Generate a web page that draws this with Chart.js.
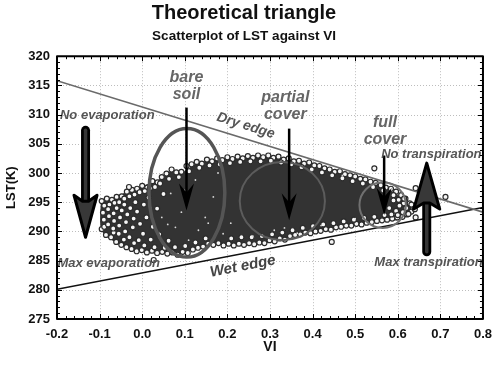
<!DOCTYPE html>
<html>
<head>
<meta charset="utf-8">
<script src="https://cdn.jsdelivr.net/npm/chart.js@4.4.0/dist/chart.umd.min.js"></script>
<style>
  html, body { margin: 0; padding: 0; background: #fff; }
</style>
</head>
<body>
<canvas id="chart" width="500" height="366"></canvas>
<script>
// --- values (VI, LST in K) ---
const dryEdge = [[-0.2, 315.8], [0.8, 293.3]];
const wetEdge = [[-0.2, 280.1], [0.8, 294.1]];

// outline of the dense part of the cloud
const cloudOutline = [
  [-0.095, 295.0], [-0.060, 295.8], [-0.025, 297.0], [0.000, 297.6], [0.045, 298.9],
  [0.070, 300.2], [0.095, 300.0], [0.130, 301.6], [0.160, 302.0], [0.210, 302.4],
  [0.290, 302.8], [0.360, 302.0], [0.440, 300.5], [0.490, 299.4], [0.560, 297.6],
  [0.600, 296.0], [0.630, 293.8], [0.610, 292.3], [0.565, 291.9], [0.487, 291.1],
  [0.440, 290.4], [0.400, 289.9], [0.364, 289.5], [0.324, 288.7], [0.287, 288.1],
  [0.248, 287.8], [0.208, 287.8], [0.171, 288.0], [0.132, 287.3], [0.085, 286.2],
  [0.055, 286.4], [-0.007, 286.8], [-0.038, 287.3], [-0.077, 289.0], [-0.095, 290.5],
  [-0.095, 295.0]
];

// open circles along the edges of the cloud
const fringePoints = [
  // upper edge
  [-0.095, 295.2], [-0.083, 295.6], [-0.071, 295.4], [-0.060, 295.9], [-0.048, 296.0],
  [-0.036, 296.8], [-0.024, 297.1], [-0.012, 297.3], [0.000, 297.8], [0.012, 297.5],
  [0.024, 298.6], [0.036, 298.4], [0.046, 299.3], [0.057, 299.9], [0.069, 300.6],
  [0.080, 300.1], [0.092, 300.2], [0.104, 301.2], [0.116, 301.5], [0.128, 301.9],
  [0.140, 301.6], [0.152, 302.3], [0.164, 302.0], [0.176, 302.5], [0.188, 302.2],
  [0.200, 302.7], [0.212, 302.4], [0.224, 302.8], [0.236, 302.5], [0.248, 302.9],
  [0.260, 302.6], [0.272, 303.0], [0.284, 302.7], [0.296, 303.0], [0.308, 302.6],
  [0.320, 302.8], [0.332, 302.3], [0.344, 302.5], [0.356, 302.0], [0.368, 302.1],
  [0.380, 301.6], [0.392, 301.8], [0.404, 301.3], [0.416, 301.2], [0.428, 300.8],
  [0.440, 300.6], [0.452, 300.2], [0.464, 300.3], [0.476, 299.8], [0.488, 299.6],
  [0.500, 299.4], [0.512, 299.0], [0.524, 298.9], [0.536, 298.5], [0.548, 298.3],
  [0.560, 297.9], [0.572, 297.5], [0.584, 297.3], [0.596, 296.8], [0.608, 296.2],
  [0.618, 295.6], [0.628, 294.8], [0.636, 294.0],
  [-0.089, 294.4], [-0.077, 294.6], [-0.065, 294.9], [-0.054, 295.0], [-0.042, 295.6],
  [-0.030, 296.0], [-0.018, 296.3], [-0.006, 296.7], [0.006, 296.9], [0.018, 297.4],
  [0.030, 297.6], [0.042, 298.2], [0.063, 299.0], [0.086, 299.3], [0.110, 300.3],
  [0.134, 300.9], [0.158, 301.3], [0.182, 301.5], [0.206, 301.7], [0.230, 301.9],
  [0.254, 302.0], [0.278, 302.0], [0.302, 302.1], [0.326, 301.8], [0.350, 301.5],
  [0.374, 301.0], [0.398, 300.6], [0.422, 300.1], [0.446, 299.6], [0.470, 299.1],
  [0.494, 298.6], [0.518, 298.2], [0.542, 297.6], [0.566, 297.0], [0.590, 296.2],
  [0.602, 295.4], [0.614, 294.8],
  // lower edge
  [-0.095, 290.4], [-0.085, 289.4], [-0.073, 289.0], [-0.061, 288.2], [-0.049, 287.7],
  [-0.037, 287.3], [-0.025, 287.0], [-0.013, 286.6], [-0.001, 286.8], [0.011, 286.4],
  [0.023, 286.7], [0.035, 286.3], [0.047, 286.5], [0.059, 286.2], [0.071, 286.4],
  [0.083, 286.0], [0.095, 286.5], [0.107, 286.3], [0.119, 286.9], [0.131, 287.2],
  [0.143, 287.4], [0.155, 287.9], [0.167, 287.7], [0.179, 288.0], [0.191, 287.6],
  [0.203, 287.9], [0.215, 287.6], [0.227, 287.9], [0.239, 287.7], [0.251, 288.0],
  [0.263, 287.8], [0.275, 288.1], [0.287, 288.0], [0.299, 288.5], [0.311, 288.3],
  [0.323, 288.8], [0.335, 288.6], [0.347, 289.2], [0.359, 289.4], [0.371, 289.5],
  [0.383, 289.8], [0.395, 289.7], [0.407, 290.0], [0.419, 290.1], [0.431, 290.4],
  [0.443, 290.3], [0.455, 290.7], [0.467, 290.8], [0.479, 291.0], [0.491, 291.0],
  [0.503, 291.3], [0.515, 291.2], [0.527, 291.5], [0.539, 291.6], [0.551, 291.8],
  [0.563, 291.9], [0.575, 292.0], [0.587, 292.2], [0.599, 292.4], [0.611, 292.5],
  [0.622, 292.9], [0.632, 293.4],
  [-0.089, 290.8], [-0.067, 289.8], [-0.043, 288.6], [-0.019, 288.0], [0.005, 287.6],
  [0.029, 287.3], [0.053, 287.2], [0.077, 287.3], [0.101, 287.5], [0.125, 288.1],
  [0.149, 288.8], [0.209, 288.8], [0.233, 289.0], [0.257, 289.0], [0.281, 289.2],
  [0.305, 289.5], [0.329, 289.8], [0.353, 290.2], [0.377, 290.6], [0.401, 290.9],
  [0.425, 291.2], [0.449, 291.4], [0.473, 291.7], [0.497, 292.0], [0.521, 292.3],
  [0.545, 292.5], [0.569, 292.8], [0.593, 293.2],
  // sparse left end
  [-0.090, 292.0], [-0.092, 293.2], [-0.080, 291.2], [-0.078, 292.6], [-0.080, 293.8],
  [-0.068, 290.5], [-0.066, 291.8], [-0.067, 293.1], [-0.060, 294.0], [-0.055, 289.6],
  [-0.054, 291.0], [-0.052, 292.4], [-0.048, 293.6], [-0.042, 294.6], [-0.040, 290.0],
  [-0.038, 291.6], [-0.035, 292.9], [-0.030, 289.0], [-0.028, 294.0], [-0.022, 290.7],
  [-0.020, 292.2], [-0.016, 295.0], [-0.012, 293.4], [-0.008, 288.5], [-0.005, 291.3],
  [0.002, 289.6], [0.004, 294.6], [0.010, 292.4], [0.015, 295.8], [0.020, 288.6],
  [0.025, 290.8], [0.035, 293.9], [0.040, 289.5], [0.050, 296.4], [0.062, 288.4],
  // sparse right tip
  [0.580, 294.0], [0.590, 295.3], [0.596, 293.5], [0.604, 294.4], [0.612, 293.3],
  [0.620, 294.0], [0.625, 293.0], [0.632, 294.6], [0.640, 293.8], [0.600, 292.8],
  [0.585, 292.9], [0.615, 295.6],
  // outliers
  [0.545, 300.8], [0.642, 297.4], [0.712, 295.9], [0.650, 295.0], [0.642, 292.4],
  [0.445, 288.2], [0.027, 285.1], [-0.031, 297.6]
];

// light specks inside the dense part
const speckPoints = [
  [0.046, 292.4], [0.078, 290.7], [0.092, 293.3], [0.132, 290.2], [0.039, 289.0],
  [0.148, 292.4], [0.109, 288.5], [0.067, 296.5], [0.125, 298.8], [0.167, 295.9],
  [0.155, 291.4], [0.208, 291.4], [0.178, 300.0], [0.310, 290.2], [0.334, 290.6],
  [0.364, 289.7], [0.020, 294.0], [0.060, 291.2], [0.100, 297.0], [0.190, 289.6],
  [0.260, 289.2], [0.420, 291.0], [0.500, 292.2], [0.470, 299.6]
];

// ellipses drawn around the three cover classes
const ellipseCx = [0.105, 0.329, 0.5645];
const ellipseCy = [296.6, 295.2, 294.5];
const ellipseRx = [0.089, 0.100, 0.0545];
const ellipseRy = [11.0, 6.7, 3.9];

// thin black arrows and the two fat arrows
const thinArrowX = [0.104, 0.345, 0.568];
const thinArrowTop = [311.2, 307.6, 303.0];
const thinArrowTip = [293.6, 291.9, 292.8];
const fatArrowX = [-0.133, 0.668];
const fatArrowTail = [307.3, 286.5];
const fatArrowTip = [289.0, 301.7];

// texts on the plot
const coverNotes = [['bare', 'soil'], ['partial', 'cover'], ['full', 'cover']];
const coverX = [0.104, 0.336, 0.570];
const coverY = [316.4, 312.9, 308.7];
const sideNotes = ['No evaporation', 'Max evaporation', 'No transpiration', 'Max transpiration'];
const sideX = [-0.193, -0.199, 0.561, 0.545];
const sideY = [309.9, 284.6, 303.2, 284.7];
const edgeNotes = ['Dry edge', 'Wet edge'];
const edgeX = [0.243, 0.236];
const edgeY = [308.1, 284.0];

const FONT = '"Liberation Sans", Arial, sans-serif';
const toXY = arr => arr.map(([x, y]) => ({ x, y }));

function thinArrow(ctx, px, topY, tipY) {
  ctx.strokeStyle = '#000';
  ctx.lineWidth = 2.5;
  ctx.beginPath();
  ctx.moveTo(px, topY);
  ctx.lineTo(px, tipY - 12);
  ctx.stroke();
  ctx.fillStyle = '#000';
  ctx.beginPath();
  ctx.moveTo(px, tipY);
  ctx.lineTo(px - 7.5, tipY - 27);
  ctx.lineTo(px, tipY - 18);
  ctx.lineTo(px + 7.5, tipY - 27);
  ctx.closePath();
  ctx.fill();
}

function fatArrow(ctx, px, tailY, tipY, headW, headL) {
  const dir = Math.sign(tipY - tailY);
  const baseY = tipY - dir * headL;
  ctx.lineCap = 'round';
  ctx.strokeStyle = '#000';
  ctx.lineWidth = 9;
  ctx.beginPath();
  ctx.moveTo(px, tailY);
  ctx.lineTo(px, baseY);
  ctx.stroke();
  ctx.strokeStyle = '#363636';
  ctx.lineWidth = 3.5;
  ctx.beginPath();
  ctx.moveTo(px, tailY);
  ctx.lineTo(px, baseY);
  ctx.stroke();
  ctx.lineCap = 'butt';
  ctx.beginPath();
  ctx.moveTo(px - 3, baseY);
  ctx.lineTo(px - headW / 2, baseY - dir * 6);
  ctx.lineTo(px, tipY);
  ctx.lineTo(px + headW / 2, baseY - dir * 6);
  ctx.lineTo(px + 3, baseY);
  ctx.closePath();
  ctx.fillStyle = '#383838';
  ctx.fill();
  ctx.lineJoin = 'round';
  ctx.lineWidth = 3;
  ctx.strokeStyle = '#000';
  ctx.stroke();
}

const overlay = {
  id: 'overlay',
  beforeDatasetsDraw(chart) {
    const { ctx, chartArea: a, scales: { x, y } } = chart;
    ctx.save();
    ctx.strokeStyle = '#bdbdbd';
    ctx.lineWidth = 1;
    ctx.setLineDash([1, 2]);
    x.ticks.forEach(t => {
      const px = Math.round(x.getPixelForValue(t.value)) + 0.5;
      ctx.beginPath(); ctx.moveTo(px, a.top); ctx.lineTo(px, a.bottom); ctx.stroke();
    });
    y.ticks.forEach(t => {
      const py = Math.round(y.getPixelForValue(t.value)) + 0.5;
      ctx.beginPath(); ctx.moveTo(a.left, py); ctx.lineTo(a.right, py); ctx.stroke();
    });
    ctx.restore();
  },
  afterDatasetsDraw(chart) {
    const { ctx, chartArea: a, scales: { x, y } } = chart;
    ctx.save();

    // ellipses
    const ringColor = ['#555', '#5c5c5c', '#707070'];
    const ringWidth = [3.5, 2, 2];
    ellipseCx.forEach((cx, i) => {
      const px = x.getPixelForValue(cx), py = y.getPixelForValue(ellipseCy[i]);
      const rx = Math.abs(x.getPixelForValue(cx + ellipseRx[i]) - px);
      const ry = Math.abs(y.getPixelForValue(ellipseCy[i] + ellipseRy[i]) - py);
      ctx.strokeStyle = ringColor[i];
      ctx.lineWidth = ringWidth[i];
      ctx.beginPath();
      ctx.ellipse(px, py, rx, ry, 0, 0, Math.PI * 2);
      ctx.stroke();
    });

    thinArrowX.forEach((v, i) => {
      thinArrow(ctx, x.getPixelForValue(v), y.getPixelForValue(thinArrowTop[i]), y.getPixelForValue(thinArrowTip[i]));
    });
    fatArrowX.forEach((v, i) => {
      fatArrow(ctx, x.getPixelForValue(v), y.getPixelForValue(fatArrowTail[i]),
        y.getPixelForValue(fatArrowTip[i]), i === 0 ? 23 : 26, i === 0 ? 36 : 40);
    });

    // texts
    ctx.textBaseline = 'middle';
    ctx.fillStyle = '#666';
    ctx.textAlign = 'center';
    ctx.font = 'italic bold 16px ' + FONT;
    coverNotes.forEach((lines, i) => {
      const px = x.getPixelForValue(coverX[i]);
      const py = y.getPixelForValue(coverY[i]);
      lines.forEach((s, k) => ctx.fillText(s, px, py + k * 17));
    });

    ctx.fillStyle = '#555';
    ctx.textAlign = 'left';
    ctx.font = 'italic bold 13px ' + FONT;
    sideNotes.forEach((s, i) => {
      ctx.fillText(s, x.getPixelForValue(sideX[i]), y.getPixelForValue(sideY[i]));
    });

    const edges = [dryEdge, wetEdge];
    ctx.textAlign = 'center';
    edgeNotes.forEach((s, i) => {
      const e = edges[i];
      const ang = Math.atan2(y.getPixelForValue(e[1][1]) - y.getPixelForValue(e[0][1]),
        x.getPixelForValue(e[1][0]) - x.getPixelForValue(e[0][0]));
      ctx.save();
      ctx.translate(x.getPixelForValue(edgeX[i]), y.getPixelForValue(edgeY[i]));
      ctx.rotate(ang);
      ctx.font = 'italic bold ' + (i === 0 ? 14 : 15) + 'px ' + FONT;
      ctx.fillStyle = i === 0 ? '#555' : '#444';
      ctx.fillText(s, 0, 0);
      ctx.restore();
    });

    // frame with minor ticks
    ctx.strokeStyle = '#000';
    ctx.lineWidth = 1;
    for (let v = -0.2; v <= 0.8001; v += 0.02) {
      const px = Math.round(x.getPixelForValue(v)) + 0.5;
      const major = Math.abs(v * 10 - Math.round(v * 10)) < 1e-6;
      const len = major ? 5 : 3;
      ctx.beginPath();
      ctx.moveTo(px, a.top); ctx.lineTo(px, a.top + len);
      ctx.moveTo(px, a.bottom); ctx.lineTo(px, a.bottom - len);
      ctx.stroke();
    }
    for (let v = 275; v <= 320; v += 1) {
      const py = Math.round(y.getPixelForValue(v)) + 0.5;
      const len = v % 5 === 0 ? 5 : 3;
      ctx.beginPath();
      ctx.moveTo(a.left, py); ctx.lineTo(a.left + len, py);
      ctx.moveTo(a.right, py); ctx.lineTo(a.right - len, py);
      ctx.stroke();
    }
    ctx.lineWidth = 2;
    ctx.strokeRect(a.left, a.top, a.right - a.left, a.bottom - a.top);
    ctx.restore();
  }
};

new Chart(document.getElementById('chart'), {
  type: 'scatter',
  data: {
    datasets: [
      { label: 'Dry edge', data: toXY(dryEdge), showLine: true, borderColor: '#6a6a6a',
        borderWidth: 1.6, pointRadius: 0, order: 0 },
      { label: 'Wet edge', data: toXY(wetEdge), showLine: true, borderColor: '#111',
        borderWidth: 1.6, pointRadius: 0, order: 0 },
      { label: 'specks', data: toXY(speckPoints), pointRadius: 0.9, pointBorderWidth: 0,
        pointBackgroundColor: '#d8d8d8', order: 1 },
      { label: 'LST vs VI', data: toXY(fringePoints), pointRadius: 2.5, pointBorderWidth: 1.2,
        pointBackgroundColor: '#f6f6f6', pointBorderColor: '#2b2b2b', order: 2 },
      { label: 'cloud', data: toXY(cloudOutline), showLine: true, fill: 'shape', tension: 0.3,
        borderColor: '#333', backgroundColor: '#333', borderWidth: 2, pointRadius: 0, order: 3 }
    ]
  },
  options: {
    responsive: false,
    animation: false,
    layout: { padding: { left: 0, right: 12, top: 0, bottom: 0 } },
    plugins: {
      legend: { display: false },
      tooltip: { enabled: false },
      title: {
        display: true,
        text: 'Theoretical triangle',
        color: '#111',
        font: { family: FONT, size: 20, weight: 'bold' },
        padding: { top: 1, bottom: 0 }
      },
      subtitle: {
        display: true,
        text: 'Scatterplot of LST against VI',
        color: '#111',
        font: { family: FONT, size: 13.5, weight: 'bold' },
        padding: { top: 3, bottom: 12 }
      }
    },
    scales: {
      x: {
        type: 'linear',
        min: -0.2,
        max: 0.8,
        grid: { display: false, drawTicks: false, tickLength: 0 },
        border: { display: false },
        afterFit: s => { s.height = 47; },
        ticks: {
          stepSize: 0.1,
          padding: 8,
          color: '#111',
          font: { family: FONT, size: 13, weight: 'bold' },
          callback: v => (Math.abs(v) < 1e-9 ? 0 : v).toFixed(1)
        },
        title: {
          display: true,
          text: 'VI',
          color: '#111',
          font: { family: FONT, size: 14, weight: 'bold' },
          padding: { top: 0, bottom: 10 }
        }
      },
      y: {
        min: 275,
        max: 320,
        grid: { display: false, drawTicks: false, tickLength: 0 },
        border: { display: false },
        afterFit: s => { s.width = 57; },
        ticks: {
          stepSize: 5,
          padding: 7,
          color: '#111',
          font: { family: FONT, size: 13, weight: 'bold' }
        },
        title: {
          display: true,
          text: 'LST(K)',
          color: '#111',
          font: { family: FONT, size: 13, weight: 'bold' },
          padding: { top: 4, bottom: 0 }
        }
      }
    }
  },
  plugins: [overlay]
});
</script>
</body>
</html>
